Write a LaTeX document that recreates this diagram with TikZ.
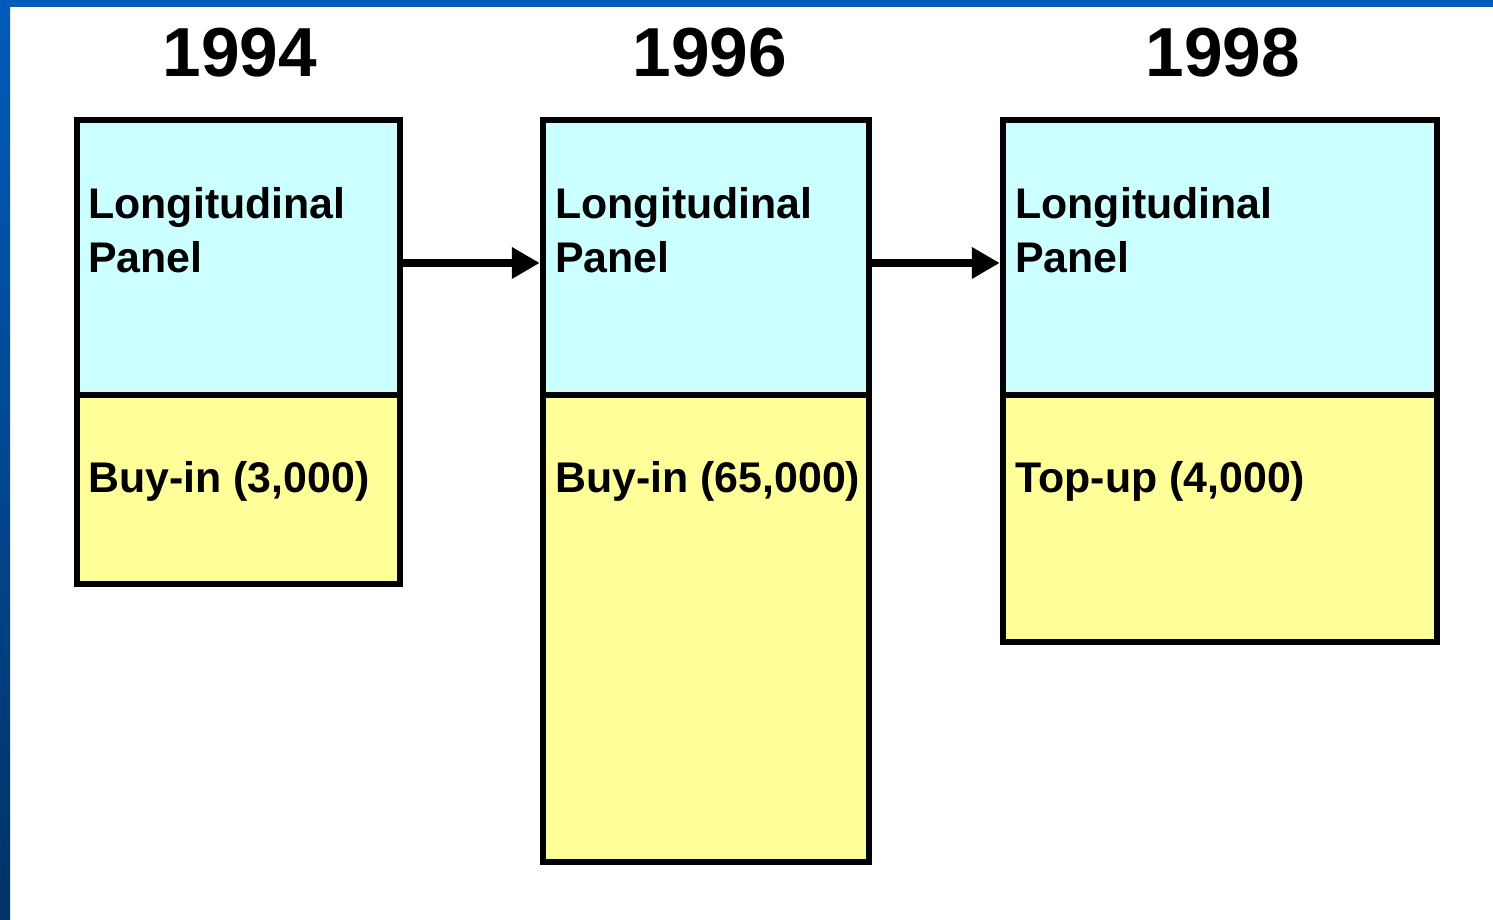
\documentclass[tikz,border=0pt]{standalone}
\usepackage{fontspec}
\setmainfont{Liberation Sans}
\usetikzlibrary{arrows.meta}
\definecolor{panelcyan}{HTML}{CCFFFF}
\definecolor{panelyellow}{HTML}{FFFF99}
\definecolor{framehi}{HTML}{005BBB}
\definecolor{framelo}{HTML}{003366}
\tikzset{
  box/.style={draw, line width=0.13cm, inner sep=0pt, outer sep=0pt, anchor=north west},
  lbl/.style={anchor=base west, inner sep=0pt, font=\bfseries\fontsize{24.4}{30}\selectfont},
  yr/.style={anchor=base, inner sep=0pt, font=\bfseries\fontsize{39.5}{46}\selectfont},
  flow/.style={line width=0.15cm, -{Triangle[length=0.56cm,width=0.6cm]}, shorten >=0.065cm}
}
\begin{document}
\begin{tikzpicture}[x=0.02cm,y=-0.02cm]
    \useasboundingbox (0,0) rectangle (1493,919);
    % slide frame
    \fill[framehi] (0,0) rectangle (1493,7);
    \shade[top color=framehi, bottom color=framelo] (0,0) rectangle (10,919);
    % years
    \node[yr] (Y94) at (240,77) {1994};
    \node[yr] (Y96) at (710,77) {1996};
    \node[yr] (Y98) at (1223,77) {1998};
    % panels
    \node[box, fill=panelcyan, minimum width=6.46cm, minimum height=5.5cm] (C94) at (77,120) {};
    \node[box, fill=panelyellow, minimum width=6.46cm, minimum height=3.78cm] (B94) at (C94.south west) {};
    \node[box, fill=panelcyan, minimum width=6.52cm, minimum height=5.5cm] (C96) at (543,120) {};
    \node[box, fill=panelyellow, minimum width=6.52cm, minimum height=9.34cm] (B96) at (C96.south west) {};
    \node[box, fill=panelcyan, minimum width=8.68cm, minimum height=5.5cm] (C98) at (1003,120) {};
    \node[box, fill=panelyellow, minimum width=8.68cm, minimum height=4.94cm] (B98) at (C98.south west) {};
    % texts
    \node[lbl] (L94) at (88,218) {Longitudinal};
    \node[lbl] (P94) at (88,272) {Panel};
    \node[lbl] (S94) at (88,492) {Buy-in (3,000)};
    \node[lbl] (L96) at (555,218) {Longitudinal};
    \node[lbl] (P96) at (555,272) {Panel};
    \node[lbl] (S96) at (555,492) {Buy-in (65,000)};
    \node[lbl] (L98) at (1015,218) {Longitudinal};
    \node[lbl] (P98) at (1015,272) {Panel};
    \node[lbl] (S98) at (1015,492) {Top-up (4,000)};
    % arrows
    \draw[flow] ([yshift=-0.11cm]C94.east) -- ([yshift=-0.11cm]C96.west);
    \draw[flow] ([yshift=-0.11cm]C96.east) -- ([yshift=-0.11cm]C98.west);
\end{tikzpicture}
\end{document}
